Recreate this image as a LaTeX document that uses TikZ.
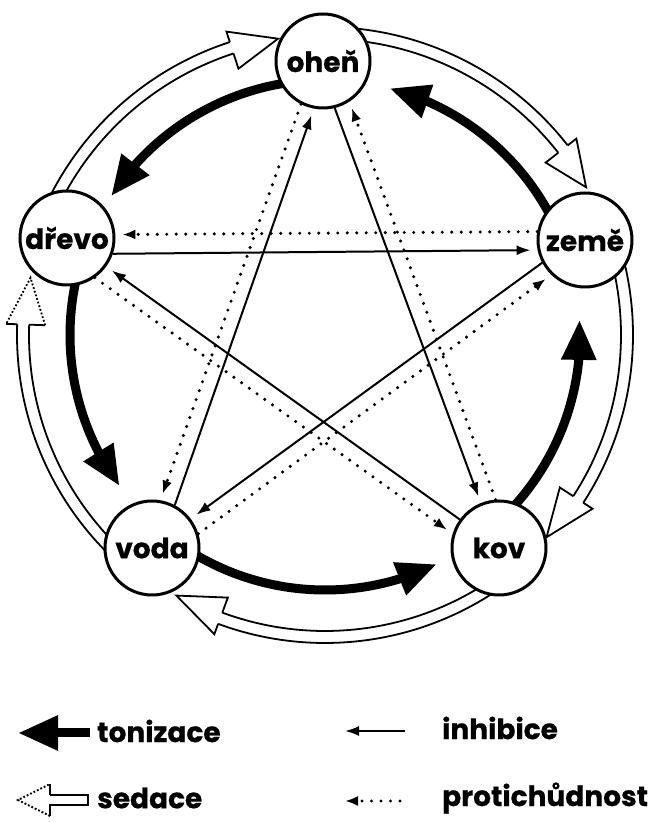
\documentclass[tikz,border=0pt]{standalone}
\usepackage{fontspec}
\setmainfont{Poppins}[BoldFeatures={FakeBold=0.6}]
\usetikzlibrary{arrows.meta,calc,bending}
\begin{document}
\begin{tikzpicture}[x=1pt,y=1pt,
  elem/.style={circle,draw,line width=3pt,fill=white,minimum size=94pt,inner sep=0pt,font=\bfseries\fontsize{28}{28}\selectfont},
  ton/.style={line width=9pt,-{Triangle[length=40pt,width=33pt,flex]}},
  sedline/.style={line width=1.8pt},
  sedhead/.style={line width=1.8pt,line join=miter},
  inh/.style={line width=2pt,-{Latex[length=14pt,width=10pt]},shorten >=7pt},
  prot/.style={line width=3.4pt,line cap=round,dash pattern=on 0pt off 9.5pt,-{Latex[length=13pt,width=10pt]},shorten >=7pt},
  legtext/.style={anchor=west,font=\bfseries\fontsize{28}{28}\selectfont,inner sep=0pt}]
\useasboundingbox (0,0) rectangle (653,822);
\coordinate (C) at (325,487);
% tonizace arcs
\foreach \sa/\sb in {90.4/147, 159.4/216.3, 230.9/296, -50.8/3.4, 20/75.3}
  \draw[ton] ($(C)+(\sa:255)$) arc[start angle=\sa, end angle=\sb, radius=255];
% sedace bands
\foreach \sa/\sb/\st in {159.4/108/99, 90.4/38/29.5, 20/-33/-42.4, -50.8/-110.3/-119.7}{
  \draw[sedline] ($(C)+(\sa:296)$) arc[start angle=\sa, end angle=\sb, radius=296];
  \draw[sedline] ($(C)+(\sa:308)$) arc[start angle=\sa, end angle=\sb, radius=308];
  \draw[sedhead] ($(C)+(\sb:296)$) -- ($(C)+(\sb:280)$) -- ($(C)+(\st:300)$) -- ($(C)+(\sb:319)$) -- ($(C)+(\sb:308)$);
}
\draw[sedline] ($(C)+(230.9:296)$) arc[start angle=230.9, end angle=178, radius=296];
\draw[sedline] ($(C)+(230.9:308)$) arc[start angle=230.9, end angle=178, radius=308];
\draw[sedhead] ($(C)+(178:296)$) -- ($(C)+(178:280)$);
\draw[sedhead] ($(C)+(178:308)$) -- ($(C)+(178:319)$);
\draw[sedhead,dotted] ($(C)+(178:280)$) -- ($(C)+(169:300)$) -- ($(C)+(178:319)$);
% elements
\node[elem] (ohen) at (323,761) {oheň};
\node[elem] (zeme) at (585,582) {země};
\node[elem] (kov) at (499,274) {kov};
\node[elem] (voda) at (152,274) {voda};
\node[elem] (drevo) at (67,584) {dřevo};
% inhibice
\draw[inh] (drevo.-19) -- (zeme.192);
\draw[inh] (zeme.208) -- (voda.37);
\draw[inh] (voda.62.5) -- (ohen.259.5);
\draw[inh] (ohen.284) -- (kov.112);
\draw[inh] (kov.144) -- (drevo.-36);
% protichudnost
\draw[prot] (zeme.170.5) -- (drevo.4);
\draw[prot] (voda.17) -- (zeme.226);
\draw[prot] (ohen.243) -- (voda.80);
\draw[prot] (kov.94) -- (ohen.303);
\draw[prot] (drevo.-55) -- (kov.163);
% legend
\coordinate (ta) at (90,89);
\coordinate (tb) at (18,89);
\draw[ton] (ta) -- (tb);
\node[legtext] (lt) at (97,91) {tonizace};
\coordinate (ia) at (405,91);
\coordinate (ib) at (345,91);
\draw[inh,shorten >=0pt] (ia) -- (ib);
\node[legtext] (li) at (442,94) {inhibice};
\draw[sedhead] (50,27) -- (88,27) -- (88,17) -- (50,17) -- (50,6);
\draw[sedhead] (50,27) -- (50,38);
\draw[sedhead,dotted] (50,6) -- (18,22) -- (50,38);
\node[legtext] (ls) at (97,24) {sedace};
\coordinate (pa) at (400,21);
\coordinate (pb) at (345,21);
\draw[prot,shorten >=0pt] (pa) -- (pb);
\node[legtext] (lp) at (442,24) {protichůdnost};
\end{tikzpicture}
\end{document}
